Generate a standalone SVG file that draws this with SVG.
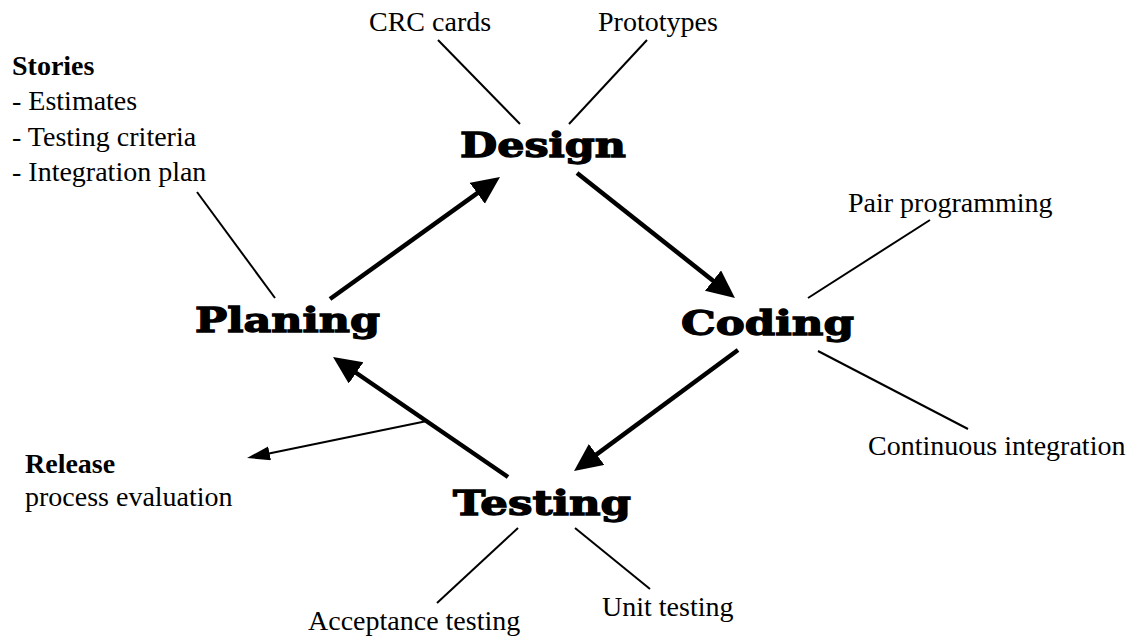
<svg xmlns="http://www.w3.org/2000/svg" width="1142" height="641" viewBox="0 0 1142 641">
<style>
.lbl{font-family:'Liberation Serif','Times New Roman',serif;font-size:28px;fill:#000}
.b{font-weight:bold}
.node{font-family:'DejaVu Serif',serif;font-weight:bold;font-size:34px;fill:#000;stroke:#000;stroke-width:1.3px}
.thin{stroke:#000;stroke-width:2;fill:none}
.thick{stroke:#000;stroke-width:4.5;fill:none}
</style>
<defs>
<marker id="big" markerUnits="userSpaceOnUse" markerWidth="30" markerHeight="28" refX="13" refY="13" orient="auto"><path d="M0,0 L28,13 L0,26 z" fill="#000"/></marker>
<marker id="small" markerUnits="userSpaceOnUse" markerWidth="24" markerHeight="16" refX="13" refY="7" orient="auto"><path d="M0,0 L23,7 L0,14 z" fill="#000"/></marker>
</defs>
<rect width="1142" height="641" fill="#fff"/>
<g id="connectors">
<line class="thick" x1="330" y1="299" x2="487.8" y2="185.7" marker-end="url(#big)"/>
<line class="thick" x1="577" y1="173" x2="723.2" y2="288.7" marker-end="url(#big)"/>
<line class="thick" x1="738" y1="350" x2="586.1" y2="462.1" marker-end="url(#big)"/>
<line class="thick" x1="508" y1="477" x2="345.4" y2="365.5" marker-end="url(#big)"/>
<line class="thin" x1="427" y1="421" x2="256.8" y2="456" marker-end="url(#small)"/>
<line class="thin" x1="438" y1="40" x2="520" y2="124"/>
<line class="thin" x1="647" y1="40" x2="569" y2="124"/>
<line class="thin" x1="197" y1="192" x2="275" y2="298"/>
<line class="thin" x1="930" y1="220" x2="808" y2="298"/>
<line class="thin" x1="818" y1="351" x2="968" y2="429"/>
<line class="thin" x1="518" y1="528" x2="437" y2="603"/>
<line class="thin" x1="575" y1="528" x2="650" y2="589"/>
</g>
<g id="design"><text class="node" x="460" y="157" textLength="166" lengthAdjust="spacingAndGlyphs">Design</text></g>
<g id="planing"><text class="node" x="195" y="332" textLength="185" lengthAdjust="spacingAndGlyphs">Planing</text></g>
<g id="coding"><text class="node" x="681" y="335" textLength="173" lengthAdjust="spacingAndGlyphs">Coding</text></g>
<g id="testing"><text class="node" x="453" y="515" textLength="178" lengthAdjust="spacingAndGlyphs">Testing</text></g>
<g id="stories">
<text class="lbl b" x="12" y="75">Stories</text>
<text class="lbl" x="12" y="110">- Estimates</text>
<text class="lbl" x="12" y="146">- Testing criteria</text>
<text class="lbl" x="12" y="181">- Integration plan</text>
</g>
<g id="crc"><text class="lbl" x="369" y="31">CRC cards</text></g>
<g id="prototypes"><text class="lbl" x="598" y="31">Prototypes</text></g>
<g id="pair"><text class="lbl" x="848" y="212">Pair programming</text></g>
<g id="ci"><text class="lbl" x="868" y="455">Continuous integration</text></g>
<g id="release">
<text class="lbl b" x="25" y="473">Release</text>
<text class="lbl" x="25" y="506">process evaluation</text>
</g>
<g id="acceptance"><text class="lbl" x="308" y="630">Acceptance testing</text></g>
<g id="unit"><text class="lbl" x="602" y="616">Unit testing</text></g>
</svg>
